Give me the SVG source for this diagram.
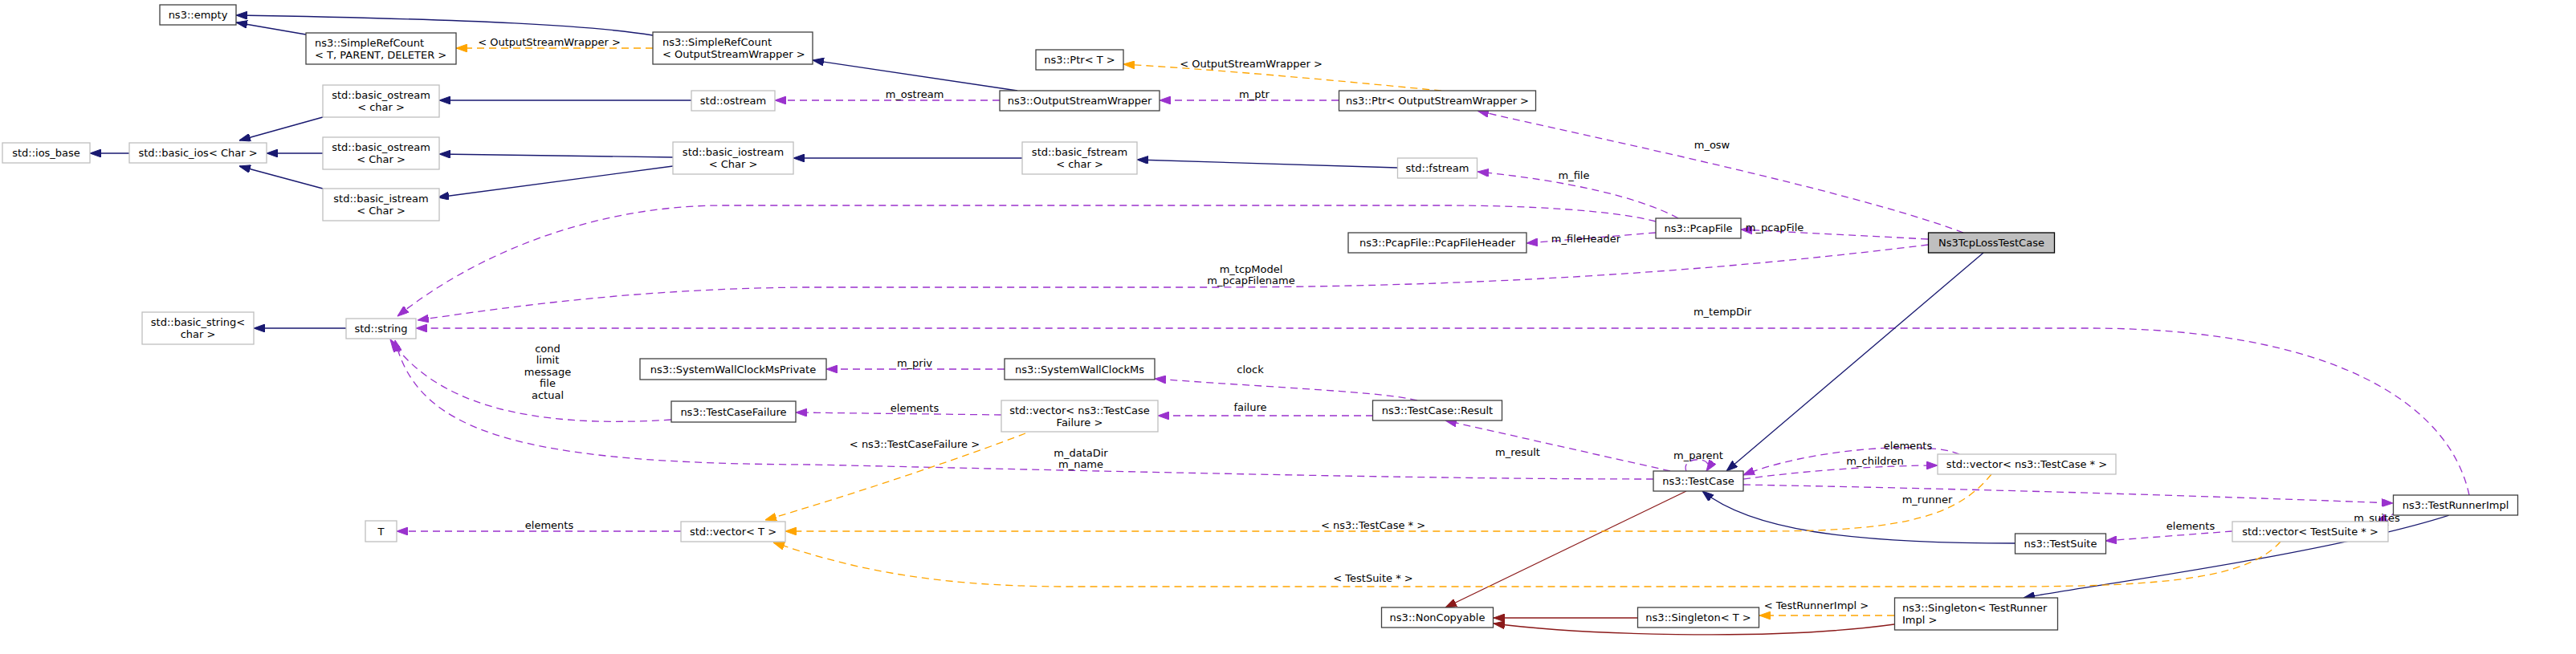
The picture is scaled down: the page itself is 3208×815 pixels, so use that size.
<svg xmlns="http://www.w3.org/2000/svg" width="3208" height="815" viewBox="0 0 3208 815">
<style>
text{font-family:"DejaVu Sans","Liberation Sans",sans-serif;font-size:13px;fill:#000}
.c{text-anchor:middle}
.doc{fill:#fff;stroke:#404040;stroke-width:1.3}
.und{fill:#fff;stroke:#bfbfbf;stroke-width:1.3}
.cur{fill:#bfbfbf;stroke:#000;stroke-width:1.3}
.e{fill:none;stroke-width:1.3}
.inh{stroke:#191970;marker-end:url(#ab)}
.inr{stroke:#8b1a1a;marker-end:url(#ar)}
.use{stroke:#9a32cd;stroke-dasharray:9,6;marker-end:url(#ap)}
.tpl{stroke:#ffa500;stroke-dasharray:9,6;marker-end:url(#ao)}
</style>
<defs>
<marker id="ab" viewBox="0 0 14 10" refX="14" refY="5" markerWidth="14" markerHeight="10" markerUnits="userSpaceOnUse" orient="auto"><path d="M0,0L14,5L0,10z" fill="#191970" stroke="#191970"/></marker>
<marker id="ar" viewBox="0 0 14 10" refX="14" refY="5" markerWidth="14" markerHeight="10" markerUnits="userSpaceOnUse" orient="auto"><path d="M0,0L14,5L0,10z" fill="#8b1a1a" stroke="#8b1a1a"/></marker>
<marker id="ap" viewBox="0 0 14 10" refX="14" refY="5" markerWidth="14" markerHeight="10" markerUnits="userSpaceOnUse" orient="auto"><path d="M0,0L14,5L0,10z" fill="#9a32cd" stroke="#9a32cd"/></marker>
<marker id="ao" viewBox="0 0 14 10" refX="14" refY="5" markerWidth="14" markerHeight="10" markerUnits="userSpaceOnUse" orient="auto"><path d="M0,0L14,5L0,10z" fill="#ffa500" stroke="#ffa500"/></marker>
</defs>
<rect width="3208" height="815" fill="#fff"/>
<g id="connectors">
<path class="e inh" d="M813,44 C740,32 600,24 294,19"/>
<path class="e inh" d="M381,43 L294,28"/>
<path class="e tpl" d="M813,60 L568,60"/>
<path class="e inh" d="M1267,113 L1012,75"/>
<path class="e tpl" d="M1795,113 C1700,104 1550,89 1399,80"/>
<path class="e use" d="M1245,125 L965,125"/>
<path class="e inh" d="M861,125 L547,125"/>
<path class="e use" d="M1667,125 L1444,125"/>
<path class="e use" d="M2445,290 C2300,235 1930,160 1840,138"/>
<path class="e inh" d="M402,146 L298,175"/>
<path class="e inh" d="M402,191 L332,191"/>
<path class="e inh" d="M402,235 L298,207"/>
<path class="e inh" d="M161,191 L112,191"/>
<path class="e inh" d="M838,196 L547,192"/>
<path class="e inh" d="M838,207 L545,246"/>
<path class="e inh" d="M1273,197 L988,197"/>
<path class="e inh" d="M1740,209 L1416,199"/>
<path class="e use" d="M2090,272 C2040,245 1950,225 1840,214"/>
<path class="e use" d="M2062,276 C2010,262 1900,256 1800,256 L900,256 C750,256 600,310 495,394"/>
<path class="e use" d="M2062,290 L1901,303"/>
<path class="e use" d="M2401,298 L2168,286"/>
<path class="e use" d="M2401,305 C2200,330 1900,358 1500,358 L1000,358 C800,360 650,380 520,399"/>
<path class="e use" d="M3075,617 C3050,500 2900,409 2600,409 L518,409"/>
<path class="e use" d="M1251,460 L1029,460"/>
<path class="e use" d="M1765,499 C1720,488 1600,484 1438,472"/>
<path class="e use" d="M1247,517 L991,514"/>
<path class="e use" d="M1710,518 L1442,518"/>
<path class="e use" d="M836,523 C650,535 540,500 486,423"/>
<path class="e use" d="M2059,597 C1800,597 1500,590 1012,579 C650,578 520,540 492,424"/>
<path class="e use" d="M2080,587 L1800,524"/>
<path class="e use" d="M2100,587 C2092,568 2138,568 2125,587"/>
<path class="e use" d="M2440,566 C2400,548 2250,560 2171,592"/>
<path class="e use" d="M2171,597 C2260,585 2350,580 2413,580"/>
<path class="e use" d="M2171,604 C2500,610 2800,620 2980,627"/>
<path class="e use" d="M2985,636 C2975,645 2970,650 2974,655"/>
<path class="e use" d="M2780,662 L2622,674"/>
<path class="e inh" d="M2509,677 C2300,677 2180,660 2120,612"/>
<path class="e inh" d="M2470,315 L2150,587"/>
<path class="e inr" d="M2100,612 L1800,757"/>
<path class="e inr" d="M2039,770 L1860,770"/>
<path class="e inr" d="M2359,778 C2200,800 1960,790 1860,777"/>
<path class="e tpl" d="M2359,767 L2191,767"/>
<path class="e inh" d="M3050,642 C2900,690 2600,730 2520,745"/>
<path class="e tpl" d="M1277,540 C1200,570 1050,620 953,648"/>
<path class="e tpl" d="M2480,591 C2440,640 2380,662 2200,662 L978,662"/>
<path class="e tpl" d="M2840,675 C2800,720 2700,731 2500,731 L1330,731 C1150,731 1050,705 963,676"/>
<path class="e use" d="M848,662 L494,662"/>
<path class="e inh" d="M431,409 L316,409"/>
</g>
<g id="labels">
<text class="c" x="684" y="56.5">&lt; OutputStreamWrapper &gt;</text>
<text class="c" x="1558" y="83.5">&lt; OutputStreamWrapper &gt;</text>
<text class="c" x="1139" y="121.5">m_ostream</text>
<text class="c" x="1562" y="121.5">m_ptr</text>
<text class="c" x="2132" y="184.5">m_osw</text>
<text class="c" x="1960" y="222.5">m_file</text>
<text class="c" x="1975" y="301.5">m_fileHeader</text>
<text class="c" x="2210" y="287.5">m_pcapFile</text>
<text class="c" x="1558" y="339.5">m_tcpModel</text>
<text class="c" x="1558" y="353.5">m_pcapFilename</text>
<text class="c" x="2145" y="392.5">m_tempDir</text>
<text class="c" x="682" y="438.5">cond</text>
<text class="c" x="682" y="453">limit</text>
<text class="c" x="682" y="467.5">message</text>
<text class="c" x="682" y="482">file</text>
<text class="c" x="682" y="496.5">actual</text>
<text class="c" x="1139" y="456.5">m_priv</text>
<text class="c" x="1557" y="464.5">clock</text>
<text class="c" x="1139" y="512.5">elements</text>
<text class="c" x="1557" y="511.5">failure</text>
<text class="c" x="1139" y="557.5">&lt; ns3::TestCaseFailure &gt;</text>
<text class="c" x="1346" y="568.5">m_dataDir</text>
<text class="c" x="1346" y="582.5">m_name</text>
<text class="c" x="1890" y="567.5">m_result</text>
<text class="c" x="2115" y="571.5">m_parent</text>
<text class="c" x="2376" y="559.5">elements</text>
<text class="c" x="2335" y="578.5">m_children</text>
<text class="c" x="2400" y="626.5">m_runner</text>
<text class="c" x="2960" y="649.5">m_suites</text>
<text class="c" x="2728" y="659.5">elements</text>
<text class="c" x="1710" y="658.5">&lt; ns3::TestCase * &gt;</text>
<text class="c" x="1710" y="724.5">&lt; TestSuite * &gt;</text>
<text class="c" x="684" y="658.5">elements</text>
<text class="c" x="2262" y="759">&lt; TestRunnerImpl &gt;</text>
</g>
<g id="n_empty"><rect class="doc" x="199" y="6" width="95" height="25"/><text class="c" x="246.5" y="23">ns3::empty</text></g>
<g id="n_srcT"><rect class="doc" x="381" y="41" width="187" height="39"/><text x="392" y="57.5">ns3::SimpleRefCount</text><text x="392" y="72.5">&lt; T, PARENT, DELETER &gt;</text></g>
<g id="n_srcOSW"><rect class="doc" x="813" y="40" width="199" height="40"/><text x="825" y="56.5">ns3::SimpleRefCount</text><text x="825" y="71.5">&lt; OutputStreamWrapper &gt;</text></g>
<g id="n_iosbase"><rect class="und" x="3" y="178" width="109" height="25"/><text class="c" x="57.5" y="195">std::ios_base</text></g>
<g id="n_basicios"><rect class="und" x="161" y="178" width="171" height="25"/><text class="c" x="246.5" y="195">std::basic_ios&lt; Char &gt;</text></g>
<g id="n_bos_char"><rect class="und" x="402" y="106" width="145" height="40"/><text class="c" x="474.5" y="122.5">std::basic_ostream</text><text class="c" x="474.5" y="137.5">&lt; char &gt;</text></g>
<g id="n_bos_Char"><rect class="und" x="402" y="171" width="145" height="40"/><text class="c" x="474.5" y="187.5">std::basic_ostream</text><text class="c" x="474.5" y="202.5">&lt; Char &gt;</text></g>
<g id="n_bis_Char"><rect class="und" x="402" y="235" width="145" height="40"/><text class="c" x="474.5" y="251.5">std::basic_istream</text><text class="c" x="474.5" y="266.5">&lt; Char &gt;</text></g>
<g id="n_ostream"><rect class="und" x="861" y="113" width="104" height="25"/><text class="c" x="913" y="130">std::ostream</text></g>
<g id="n_biostream"><rect class="und" x="838" y="177" width="150" height="40"/><text class="c" x="913" y="193.5">std::basic_iostream</text><text class="c" x="913" y="208.5">&lt; Char &gt;</text></g>
<g id="n_ptrT"><rect class="doc" x="1290" y="62" width="109" height="25"/><text class="c" x="1344.5" y="79">ns3::Ptr&lt; T &gt;</text></g>
<g id="n_osw"><rect class="doc" x="1245" y="113" width="199" height="25"/><text class="c" x="1344.5" y="130">ns3::OutputStreamWrapper</text></g>
<g id="n_bfstream"><rect class="und" x="1273" y="177" width="143" height="40"/><text class="c" x="1344.5" y="193.5">std::basic_fstream</text><text class="c" x="1344.5" y="208.5">&lt; char &gt;</text></g>
<g id="n_basicstring"><rect class="und" x="177" y="389" width="139" height="40"/><text class="c" x="246.5" y="405.5">std::basic_string&lt;</text><text class="c" x="246.5" y="420.5">char &gt;</text></g>
<g id="n_string"><rect class="und" x="431" y="397" width="87" height="25"/><text class="c" x="474.5" y="414">std::string</text></g>
<g id="n_swcmp"><rect class="doc" x="797" y="447" width="232" height="26"/><text class="c" x="913" y="464.5">ns3::SystemWallClockMsPrivate</text></g>
<g id="n_tcf"><rect class="doc" x="836" y="500" width="155" height="26"/><text class="c" x="913.5" y="517.5">ns3::TestCaseFailure</text></g>
<g id="n_swcm"><rect class="doc" x="1251" y="447" width="187" height="26"/><text class="c" x="1344.5" y="464.5">ns3::SystemWallClockMs</text></g>
<g id="n_vectcf"><rect class="und" x="1247" y="499" width="195" height="39"/><text class="c" x="1344.5" y="515.5">std::vector&lt; ns3::TestCase</text><text class="c" x="1344.5" y="530.5">Failure &gt;</text></g>
<g id="n_T"><rect class="und" x="455" y="649" width="39" height="26"/><text class="c" x="474.5" y="666.5">T</text></g>
<g id="n_vecT"><rect class="und" x="848" y="650" width="130" height="25"/><text class="c" x="913" y="667">std::vector&lt; T &gt;</text></g>
<g id="n_ptrosw"><rect class="doc" x="1667.5" y="113" width="245" height="25"/><text class="c" x="1790" y="130">ns3::Ptr&lt; OutputStreamWrapper &gt;</text></g>
<g id="n_fstream"><rect class="und" x="1740.5" y="197" width="99" height="25"/><text class="c" x="1790" y="214">std::fstream</text></g>
<g id="n_pcapfile"><rect class="doc" x="2062" y="272" width="106" height="25"/><text class="c" x="2115" y="289">ns3::PcapFile</text></g>
<g id="n_pfh"><rect class="doc" x="1679" y="290" width="222" height="25"/><text class="c" x="1790" y="307">ns3::PcapFile::PcapFileHeader</text></g>
<g id="n_ns3tcp"><rect class="cur" x="2401.5" y="290" width="157" height="25"/><text class="c" x="2480" y="307">Ns3TcpLossTestCase</text></g>
<g id="n_result"><rect class="doc" x="1709.5" y="499" width="161" height="25"/><text class="c" x="1790" y="516">ns3::TestCase::Result</text></g>
<g id="n_testcase"><rect class="doc" x="2059" y="587" width="112" height="25"/><text class="c" x="2115" y="604">ns3::TestCase</text></g>
<g id="n_vectc"><rect class="und" x="2413" y="566" width="222" height="25"/><text class="c" x="2524" y="583">std::vector&lt; ns3::TestCase * &gt;</text></g>
<g id="n_tri"><rect class="doc" x="2980.5" y="617" width="155" height="25"/><text class="c" x="3058" y="634">ns3::TestRunnerImpl</text></g>
<g id="n_vects"><rect class="und" x="2780" y="650" width="194" height="25"/><text class="c" x="2877" y="667">std::vector&lt; TestSuite * &gt;</text></g>
<g id="n_testsuite"><rect class="doc" x="2509.5" y="665" width="113" height="25"/><text class="c" x="2566" y="682">ns3::TestSuite</text></g>
<g id="n_noncopyable"><rect class="doc" x="1720.5" y="757" width="139" height="25"/><text class="c" x="1790" y="774">ns3::NonCopyable</text></g>
<g id="n_singletonT"><rect class="doc" x="2039.5" y="757" width="151" height="25"/><text class="c" x="2115" y="774">ns3::Singleton&lt; T &gt;</text></g>
<g id="n_singletontri"><rect class="doc" x="2359.5" y="745" width="203" height="40"/><text x="2369" y="761.5">ns3::Singleton&lt; TestRunner</text><text x="2369" y="776.5">Impl &gt;</text></g>
</svg>
